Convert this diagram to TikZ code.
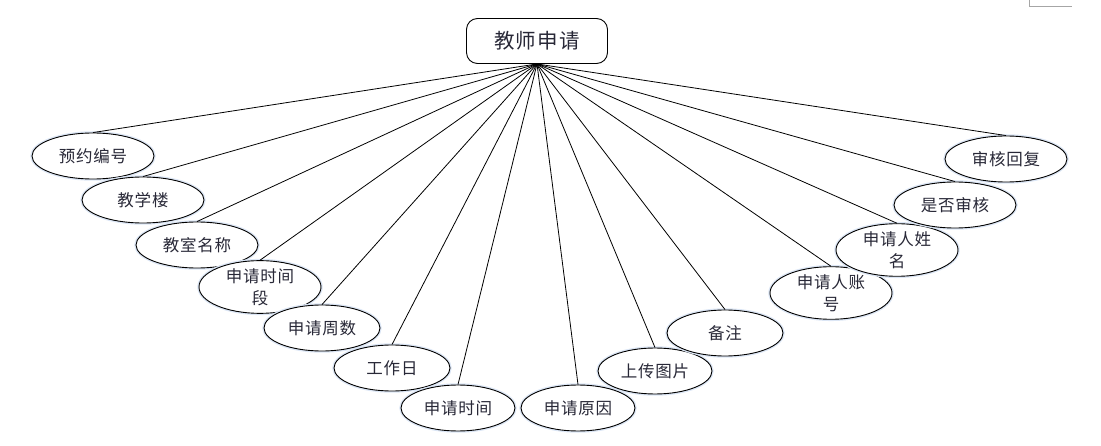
\documentclass[tikz,border=0pt]{standalone}
\usepackage{fontspec}
\newfontfamily\cjk[LetterSpace=5]{Noto Sans CJK SC}
\usetikzlibrary{shapes.geometric}
\definecolor{txt}{RGB}{40,40,55}
\definecolor{glow}{RGB}{220,230,245}
\tikzset{
  attr/.style={ellipse,draw=black,line width=0.9pt,fill=white,minimum width=122pt,minimum height=46pt,inner sep=0pt,
    font=\cjk\fontsize{16.5}{22}\selectfont,text=txt,align=center,
    preaction={draw=glow,line width=3.5pt}},
  rootbox/.style={draw=black,line width=0.9pt,rounded corners=11pt,minimum width=141pt,minimum height=45pt,inner sep=0pt,
    font=\cjk\fontsize{20.5}{24}\selectfont,text=txt,fill=white},
  link/.style={draw=black,line width=0.8pt}
}
\begin{document}
\begin{tikzpicture}[x=1pt,y=-1pt]
\useasboundingbox (0,0) rectangle (1101,446);
\draw[gray!70,line width=1pt] (1029,0) -- (1029,7) -- (1072,7);
\node[rootbox] (root) at (537,41) {教师申请};
\node[attr] (a1) at (93,156) {预约编号};
\node[attr] (a2) at (143,200) {教学楼};
\node[attr] (a3) at (197,245) {教室名称};
\node[attr] (a4) at (260,287) {申请时间\\段};
\node[attr,minimum width=116pt] (a5) at (322,328) {申请周数};
\node[attr,minimum width=116pt] (a6) at (392,368) {工作日};
\node[attr,minimum width=114pt] (a7) at (458,408) {申请时间};
\node[attr,minimum width=114pt] (a8) at (578,408) {申请原因};
\node[attr,minimum width=114pt] (a9) at (655,371) {上传图片};
\node[attr,minimum width=116pt] (a10) at (725,333) {备注};
\node[attr] (a11) at (831,293) {申请人账\\号};
\node[attr] (a12) at (897,250) {申请人姓\\名};
\node[attr] (a13) at (955,205) {是否审核};
\node[attr] (a14) at (1006,159) {审核回复};
\foreach \i in {1,...,14}
  \draw[link] (root.south) -- (a\i.north);
\end{tikzpicture}
\end{document}
